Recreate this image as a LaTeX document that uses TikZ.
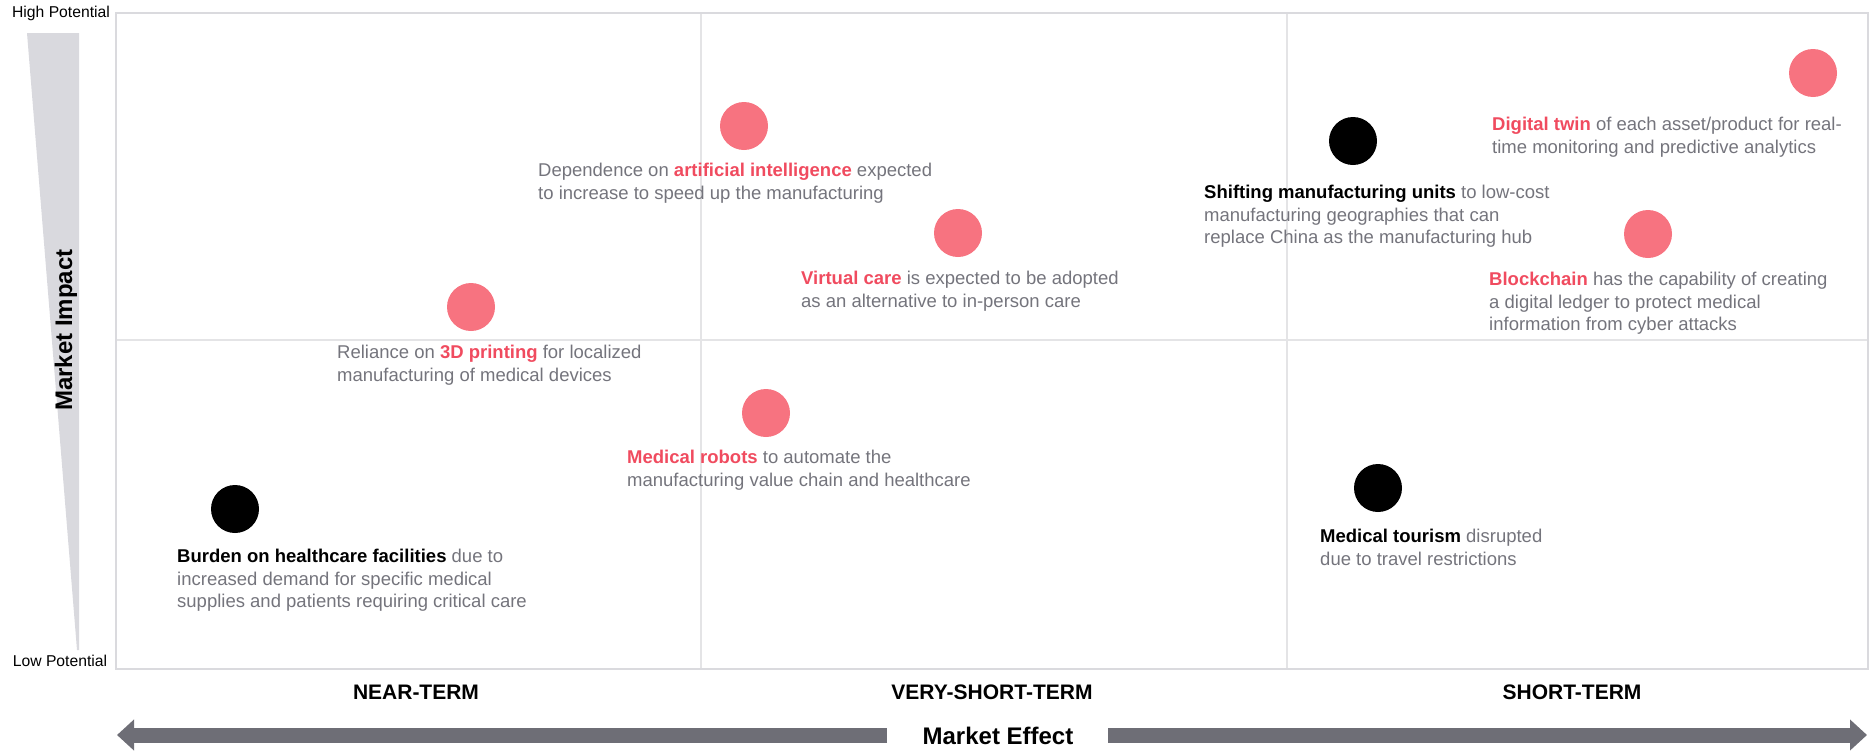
\documentclass[tikz,border=0pt]{standalone}
\usepackage{fontspec}
\setmainfont{Liberation Sans}
\usetikzlibrary{arrows.meta}
\definecolor{pinkdot}{RGB}{247,115,128}
\definecolor{hlred}{RGB}{240,75,95}
\definecolor{gtext}{RGB}{116,116,124}
\definecolor{framegray}{RGB}{218,218,222}
\definecolor{divgray}{RGB}{228,228,230}
\definecolor{trigray}{RGB}{217,217,222}
\definecolor{arrowgray}{RGB}{110,110,118}
\newcommand{\hl}[1]{\textbf{\color{hlred}#1}}
\newcommand{\bk}[1]{\textbf{\color{black}#1}}
\tikzset{
  pinkball/.style={circle,fill=pinkdot,minimum size=48pt,inner sep=0},
  blackball/.style={circle,fill=black,minimum size=48pt,inner sep=0},
  desc/.style={anchor=north west,inner sep=0,align=left,text=gtext,font=\fontsize{18.5}{22.5}\selectfont},
  potlabel/.style={inner sep=0,font=\fontsize{15.7}{18}\selectfont},
  termlabel/.style={inner sep=0,font=\fontsize{21}{24}\selectfont\bfseries},
  effarrow/.style={draw=arrowgray,line width=15pt,line cap=butt,-{Triangle[length=17pt,width=30pt]}}
}
\begin{document}
\begin{tikzpicture}[x=1pt,y=-1pt]
\useasboundingbox (0,0) rectangle (1870,750);
% vertical wedge
\fill[trigray] (27,33) -- (79,33) -- (79,650) -- (77,650) -- cycle;
% grid
\draw[divgray,line width=1.5pt] (701,13) -- (701,669);
\draw[divgray,line width=1.5pt] (1287,13) -- (1287,669);
\draw[divgray,line width=1.5pt] (116,340) -- (1868,340);
\draw[framegray,line width=2.5pt] (116,13) rectangle (1868,669);
% axis labels
\node[potlabel] (hp) at (61,13) {High Potential};
\node[potlabel] (lp) at (60,661) {Low Potential};
\node[inner sep=0,rotate=90,font=\fontsize{24}{28}\selectfont\bfseries] (mi) at (66,330) {Market Impact};
\node[termlabel] (near) at (416,692) {NEAR-TERM};
\node[termlabel] (vshort) at (992,692) {VERY-SHORT-TERM};
\node[termlabel] (short) at (1572,692) {SHORT-TERM};
% market effect arrow
\node[inner sep=0,font=\fontsize{24}{28}\selectfont\bfseries] (me) at (998,736) {Market Effect};
\coordinate (effLs) at (887,735);
\coordinate (effL) at (117,735);
\coordinate (effRs) at (1108,735);
\coordinate (effR) at (1867,735);
\draw[effarrow] (effLs) -- (effL);
\draw[effarrow] (effRs) -- (effR);
% dots
\node[pinkball] (ai) at (744,126) {};
\node[pinkball] (vc) at (958,233) {};
\node[pinkball] (tdp) at (471,307) {};
\node[pinkball] (mr) at (766,413) {};
\node[blackball] (bh) at (235,509) {};
\node[blackball] (mt) at (1378,488) {};
\node[blackball] (sm) at (1353,141) {};
\node[pinkball] (dt) at (1813,73) {};
\node[pinkball] (bc) at (1648,234) {};
% descriptions
\node[desc] (aitxt) at (538,163) {Dependence on \hl{artificial intelligence} expected\\to increase to speed up the manufacturing};
\node[desc] (vctxt) at (801,271) {\hl{Virtual care} is expected to be adopted\\as an alternative to in-person care};
\node[desc] (tdptxt) at (337,345) {Reliance on \hl{3D printing} for localized\\manufacturing of medical devices};
\node[desc] (mrtxt) at (627,450) {\hl{Medical robots} to automate the\\manufacturing value chain and healthcare};
\node[desc] (bhtxt) at (177,549) {\bk{Burden on healthcare facilities} due to\\increased demand for specific medical\\supplies and patients requiring critical care};
\node[desc] (mttxt) at (1320,529) {\bk{Medical tourism} disrupted\\due to travel restrictions};
\node[desc] (smtxt) at (1204,185) {\bk{Shifting manufacturing units} to low-cost\\manufacturing geographies that can\\replace China as the manufacturing hub};
\node[desc] (dttxt) at (1492,117) {\hl{Digital twin} of each asset/product for real-\\time monitoring and predictive analytics};
\node[desc] (bctxt) at (1489,272) {\hl{Blockchain} has the capability of creating\\a digital ledger to protect medical\\information from cyber attacks};
\end{tikzpicture}
\end{document}
